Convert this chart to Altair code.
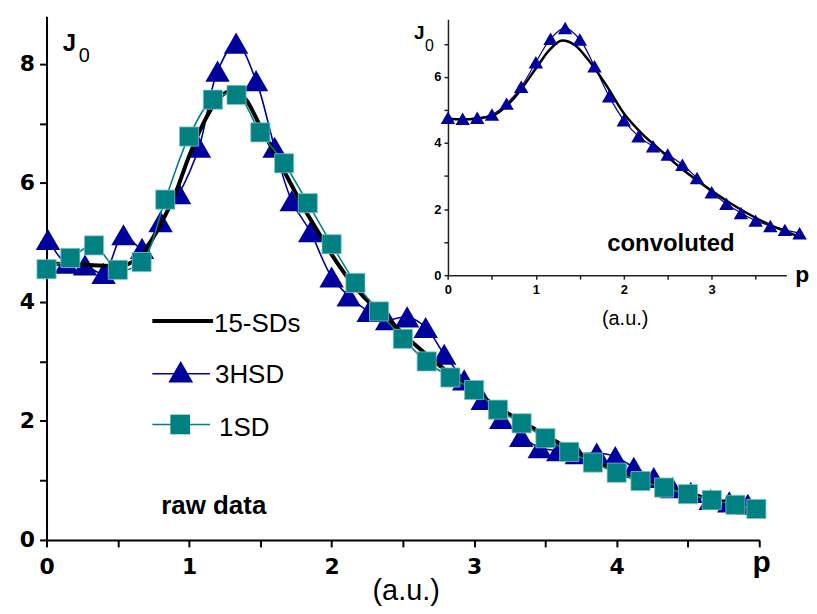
import altair as alt
import pandas as pd

# ---------------- data ----------------
# main panel: 1SD (squares)
sd1_x = [0, 0.167, 0.333, 0.5, 0.667, 0.833, 1.0, 1.167, 1.333, 1.5, 1.667, 1.833,
         2.0, 2.167, 2.333, 2.5, 2.667, 2.833, 3.0, 3.167, 3.333, 3.5, 3.667, 3.833,
         4.0, 4.167, 4.333, 4.5, 4.667, 4.833, 4.98]
sd1_y = [4.55, 4.74, 4.95, 4.54, 4.67, 5.72, 6.78, 7.40, 7.48, 6.85, 6.33, 5.66,
         4.97, 4.32, 3.84, 3.38, 3.00, 2.73, 2.52, 2.19, 1.96, 1.71, 1.48, 1.30,
         1.13, 0.99, 0.88, 0.77, 0.67, 0.59, 0.52]

# main panel: 3HSD (triangles)
hsd_x = [0.01, 0.14, 0.27, 0.40, 0.54, 0.67, 0.80, 0.93, 1.07, 1.20, 1.33, 1.47,
         1.60, 1.72, 1.85, 2.0, 2.12, 2.26, 2.39, 2.53, 2.66, 2.79, 2.93, 3.06,
         3.19, 3.33, 3.46, 3.59, 3.72, 3.86, 3.99, 4.12, 4.26, 4.39, 4.52, 4.66,
         4.79, 4.92]
hsd_y = [5.05, 4.65, 4.62, 4.48, 5.13, 4.90, 5.35, 5.82, 6.60, 7.88, 8.35, 7.72,
         6.60, 5.70, 5.18, 4.42, 4.10, 3.84, 3.70, 3.75, 3.57, 3.12, 2.69, 2.36,
         2.04, 1.74, 1.55, 1.50, 1.45, 1.46, 1.40, 1.22, 1.05, 0.88, 0.80, 0.68,
         0.64, 0.60]

# main panel: 15-SDs (black smooth curve)
sds_x = [0, 0.3, 0.5, 0.65, 0.8, 0.9, 1.0, 1.1, 1.2, 1.3, 1.4, 1.5, 1.6, 1.7, 1.8,
         1.9, 2.0, 2.2, 2.4, 2.6, 2.8, 3.0, 3.2, 3.4, 3.6, 3.8, 4.0, 4.2, 4.4, 4.6,
         4.8, 4.95]
sds_y = [4.65, 4.62, 4.60, 4.75, 5.30, 5.80, 6.45, 7.00, 7.40, 7.55, 7.40, 6.95,
         6.50, 6.05, 5.60, 5.20, 4.80, 4.15, 3.70, 3.25, 2.85, 2.50, 2.18, 1.90,
         1.62, 1.38, 1.15, 0.98, 0.85, 0.72, 0.62, 0.55]

# inset: convoluted 3HSD (triangles)
in_x = [0, 0.167, 0.333, 0.5, 0.667, 0.833, 1.0, 1.167, 1.333, 1.5, 1.667, 1.833,
        2.0, 2.167, 2.333, 2.5, 2.667, 2.833, 3.0, 3.167, 3.333, 3.5, 3.667, 3.833, 4.0]
in_y = [4.76, 4.73, 4.76, 4.86, 5.19, 5.70, 6.44, 7.15, 7.48, 7.13, 6.32, 5.41,
        4.69, 4.20, 3.90, 3.65, 3.34, 2.94, 2.51, 2.16, 1.88, 1.65, 1.49, 1.37, 1.27]

# inset: convoluted 15-SDs (black curve)
inl_x = [0, 0.25, 0.5, 0.75, 1.0, 1.15, 1.3, 1.45, 1.6, 1.8, 2.0, 2.2, 2.4, 2.6,
         2.8, 3.0, 3.2, 3.4, 3.6, 3.8, 3.96]
inl_y = [4.72, 4.72, 4.82, 5.35, 6.25, 6.80, 7.10, 6.95, 6.50, 5.75, 4.90, 4.30,
         3.82, 3.35, 2.93, 2.55, 2.20, 1.88, 1.60, 1.37, 1.20]

# ---------------- layout constants ----------------
NAVY = "#00009c"
TEAL = "#008080"
FONT = "Liberation Sans"
OX, OY = 46.7, 15.0          # page position of plot origin
W, H = 716, 526


def px(x):
    return x - OX


def py(y):
    return y - OY


df_sd1 = pd.DataFrame({"x": sd1_x, "y": sd1_y})
df_hsd = pd.DataFrame({"x": hsd_x, "y": hsd_y})
df_sds = pd.DataFrame({"x": sds_x, "y": sds_y})
df_in = pd.DataFrame({"x": in_x, "y": in_y})
df_inl = pd.DataFrame({"x": inl_x, "y": inl_y})

# ---------------- main panel ----------------
mx = alt.X("x:Q", scale=alt.Scale(domain=[0, 5], nice=False, zero=False),
           axis=alt.Axis(values=[i * 0.5 for i in range(11)],
                         labelExpr="datum.value % 1 === 0 && datum.value < 5 ? '' + datum.value : ''",
                         title=None, grid=False, domainColor="black", domainWidth=2,
                         tickColor="black", tickWidth=2, tickSize=7,
                         labelFont="DejaVu Sans", labelFontWeight="bold", labelFontSize=22,
                         labelColor="black", labelPadding=10, labelFlush=False))
my = alt.Y("y:Q", scale=alt.Scale(domain=[0, 8.8], nice=False, zero=False),
           axis=alt.Axis(values=list(range(9)),
                         labelExpr="datum.value % 2 === 0 ? '' + datum.value : ''",
                         title=None, grid=False, domainColor="black", domainWidth=2,
                         tickColor="black", tickWidth=2, tickSize=7,
                         labelFont="DejaVu Sans", labelFontWeight="bold", labelFontSize=22,
                         labelColor="black", labelPadding=5))

hsd_line = alt.Chart(df_hsd).mark_line(color=NAVY, strokeWidth=1.6,
                                       interpolate="catmull-rom").encode(x=mx, y=my)
hsd_pts = alt.Chart(df_hsd).mark_point(shape="triangle-up", size=600, filled=True,
                                       color=NAVY, opacity=1).encode(x=mx, y=my)
sds_line = alt.Chart(df_sds).mark_line(color="black", strokeWidth=4,
                                       interpolate="monotone").encode(x=mx, y=my)
sd1_line = alt.Chart(df_sd1).mark_line(color=TEAL, strokeWidth=1.6,
                                       interpolate="catmull-rom").encode(x=mx, y=my)
sd1_pts = alt.Chart(df_sd1).mark_point(shape="square", size=370, filled=True,
                                       color=TEAL, opacity=1, stroke="#7fc4c4",
                                       strokeWidth=0.8).encode(x=mx, y=my)

main = alt.layer(hsd_line, hsd_pts, sds_line, sd1_line, sd1_pts)

# ---------------- inset panel ----------------
IX0, IX1 = px(450), px(790)
IY0, IY1 = py(275), py(18)
ix = alt.X("x:Q", scale=alt.Scale(domain=[0, 3.85], range=[IX0, IX1], nice=False, zero=False),
           axis=alt.Axis(orient="bottom", offset=-(H - IY0),
                         values=[i * 0.5 for i in range(8)],
                         labelExpr="datum.value % 1 === 0 ? '' + datum.value : ''",
                         title=None, grid=False, domainColor="#222", domainWidth=1.5,
                         tickColor="#222", tickWidth=1.5, tickSize=4,
                         labelFont=FONT, labelFontWeight="bold", labelFontSize=13,
                         labelColor="black", labelPadding=4, labelFlush=False))
iy = alt.Y("y:Q", scale=alt.Scale(domain=[0, 7.74], range=[IY0, IY1], nice=False, zero=False),
           axis=alt.Axis(orient="left", offset=-IX0,
                         values=list(range(8)),
                         labelExpr="datum.value % 2 === 0 ? '' + datum.value : ''",
                         title=None, grid=False, domainColor="#222", domainWidth=1.5,
                         tickColor="#222", tickWidth=1.5, tickSize=4,
                         labelFont=FONT, labelFontWeight="bold", labelFontSize=13,
                         labelColor="black", labelPadding=3))

in_line = alt.Chart(df_in).mark_line(color=NAVY, strokeWidth=1.2,
                                     interpolate="catmull-rom").encode(x=ix, y=iy)
inl_line = alt.Chart(df_inl).mark_line(color="black", strokeWidth=2.5,
                                       interpolate="monotone").encode(x=ix, y=iy)
in_pts = alt.Chart(df_in).mark_point(shape="triangle-up", size=210, filled=True,
                                     color=NAVY, opacity=1).encode(x=ix, y=iy)
inset = alt.layer(in_line, inl_line, in_pts)

# ---------------- annotations & legend ----------------
one = pd.DataFrame({"a": [0]})


def text(t, x, y, size, weight="bold", align="left", font=FONT):
    return alt.Chart(one).mark_text(text=t, font=font, fontSize=size, fontWeight=weight,
                                    align=align, baseline="alphabetic", color="black").encode(
        x=alt.value(px(x)), y=alt.value(py(y)))


def hline(x1, x2, y, color, width):
    return alt.Chart(one).mark_rule(color=color, strokeWidth=width).encode(
        x=alt.value(px(x1)), x2=alt.value(px(x2)), y=alt.value(py(y)))


def sym(shape, x, y, size, color):
    return alt.Chart(one).mark_point(shape=shape, size=size, filled=True, color=color,
                                     opacity=1).encode(x=alt.value(px(x)), y=alt.value(py(y)))


notes = alt.layer(
    text("J", 63, 50, 24),
    text("0", 79, 61, 20, weight="normal"),
    text("p", 756, 573, 30),
    text("(a.u.)", 408, 601, 29, weight="normal", align="center"),
    text("raw data", 162, 515, 26),
    text("J", 416, 38, 19),
    text("0", 427, 50, 16, weight="normal"),
    text("p", 799, 282, 23),
    text("(a.u.)", 628, 325, 20, weight="normal", align="center"),
    text("convoluted", 610, 251, 24),
    # legend
    hline(153, 214, 321, "black", 4),
    text("15-SDs", 215, 332, 26, weight="normal"),
    hline(153, 211, 374, NAVY, 1.6),
    sym("triangle-up", 181.5, 372, 620, NAVY),
    text("3HSD", 216, 383, 26, weight="normal"),
    hline(153, 211, 425, TEAL, 1.6),
    sym("square", 181, 425, 390, TEAL),
    text("1SD", 220, 437, 26, weight="normal"),
)

chart = alt.layer(main, inset, notes).resolve_scale(
    x="independent", y="independent"
).properties(
    width=W, height=H,
    autosize=alt.AutoSizeParams(type="none"),
    padding={"left": OX - 8, "top": OY - 8, "right": 50, "bottom": 70},
    background="white",
).configure_view(stroke=None)

chart.save("out.html", embed_options={"renderer": "svg", "actions": False})
